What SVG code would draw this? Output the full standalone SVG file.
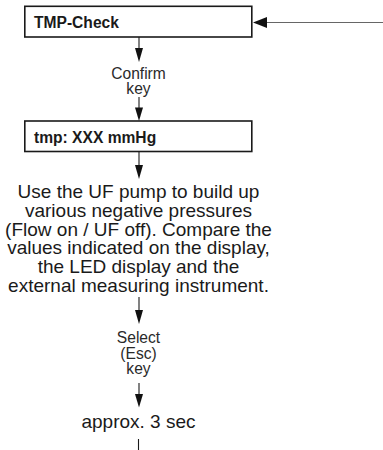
<svg xmlns="http://www.w3.org/2000/svg" width="383" height="450" viewBox="0 0 383 450">
<style>
.box{fill:#fff;stroke:#1a1a1a;stroke-width:1.6}
.bt{font-family:"Liberation Sans",Arial,sans-serif;font-weight:bold;font-size:15.6px;fill:#1a1a1a}
.lbl{font-family:"Liberation Sans",Arial,sans-serif;font-size:15.6px;fill:#2a2a2a;text-anchor:middle}
.par{font-family:"Liberation Sans",Arial,sans-serif;font-size:19px;fill:#1a1a1a;text-anchor:middle}
.ln{stroke:#1a1a1a;stroke-width:1.1;fill:none}
.hd{fill:#111}
</style>
<rect width="383" height="450" fill="#fff"/>
<g id="connectors">
  <line class="ln" x1="383" y1="22.5" x2="264" y2="22.5" style="stroke:#666"/>
  <polygon class="hd" points="253,22.5 267,17 267,28"/>
  <line class="ln" x1="139" y1="37" x2="139" y2="49"/>
  <polygon class="hd" points="139,62 135,48 143,48"/>
  <line class="ln" x1="139" y1="97" x2="139" y2="109"/>
  <polygon class="hd" points="139,121 135,107.5 143,107.5"/>
  <line class="ln" x1="139" y1="152" x2="139" y2="166"/>
  <polygon class="hd" points="139,179 135,165 143,165"/>
  <line class="ln" x1="139" y1="297" x2="139" y2="311"/>
  <polygon class="hd" points="139,324 135,310 143,310"/>
  <line class="ln" x1="139" y1="383" x2="139" y2="395"/>
  <polygon class="hd" points="139,407.5 135,394 143,394"/>
  <line class="ln" x1="138.5" y1="439" x2="138.5" y2="450"/>
</g>
<g id="tmp-check">
  <rect class="box" x="24.8" y="6.3" width="227" height="30.7"/>
  <text class="bt" x="34" y="28">TMP-Check</text>
</g>
<g id="confirm-key">
  <text class="lbl" x="138.5" y="79">Confirm</text>
  <text class="lbl" x="138.5" y="94">key</text>
</g>
<g id="tmp-display">
  <rect class="box" x="24.8" y="121" width="227" height="30.5"/>
  <text class="bt" x="34" y="143">tmp: XXX mmHg</text>
</g>
<g id="instruction">
  <text class="par" x="138.5" y="198.3">Use the UF pump to build up</text>
  <text class="par" x="138.5" y="217">various negative pressures</text>
  <text class="par" x="138.5" y="235.7">(Flow on / UF off). Compare the</text>
  <text class="par" x="138.5" y="254.4">values indicated on the display,</text>
  <text class="par" x="138.5" y="273.1">the LED display and the</text>
  <text class="par" x="138.5" y="291.8">external measuring instrument.</text>
</g>
<g id="select-key">
  <text class="lbl" x="138.5" y="343.3">Select</text>
  <text class="lbl" x="138.5" y="358.6">(Esc)</text>
  <text class="lbl" x="138.5" y="374">key</text>
</g>
<g id="approx">
  <text class="par" x="138.5" y="428">approx. 3 sec</text>
</g>
</svg>
